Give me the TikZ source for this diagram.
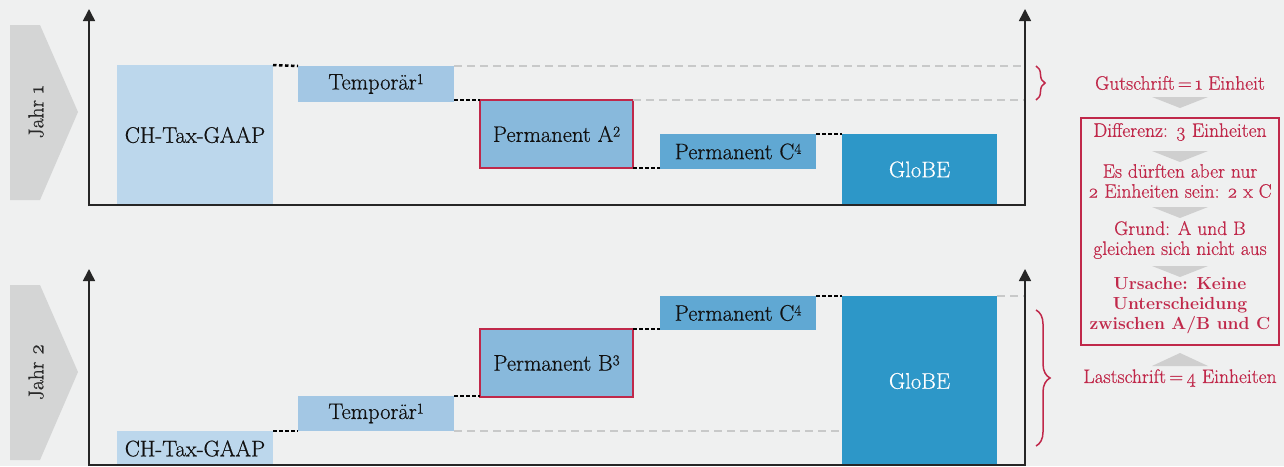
\documentclass[tikz,border=0pt]{standalone}
\usepackage{fontspec}
\newfontfamily\boldish{Latin Modern Roman}[FakeBold=0.6]
\newcommand\supnum[1]{\raisebox{0.55ex}{\fontsize{15}{15}\selectfont #1}}
\usetikzlibrary{arrows.meta,decorations.pathreplacing,calc}
\definecolor{bgc}{HTML}{EFF0F0}
\definecolor{jahrc}{HTML}{D4D5D5}
\definecolor{taxc}{HTML}{BCD7EC}
\definecolor{tempc}{HTML}{A3C7E4}
\definecolor{permc}{HTML}{88B9DC}
\definecolor{permcc}{HTML}{60A8D3}
\definecolor{globec}{HTML}{2D97C8}
\definecolor{redc}{HTML}{C0284A}
\definecolor{dashc}{HTML}{C8C9C9}
\definecolor{tric}{HTML}{CFCFCF}
\definecolor{txtc}{HTML}{111111}
\begin{document}
\begin{tikzpicture}[x=1pt,y=-1pt,
  barbox/.style 2 args={anchor=north west, inner sep=0pt, outer sep=0pt,
    minimum width=#1, minimum height=#2, text=txtc,
    font=\boldish\fontsize{22.5}{26}\selectfont},
  redframe/.style={draw=redc, line width=2.5pt},
  dotblk/.style={line width=2.5pt, dash pattern=on 3.5pt off 2.5pt, black},
  dashgr/.style={line width=2pt, dash pattern=on 8pt off 5pt, dashc},
  axisplain/.style={line width=1.6pt, black!85},
  axisarrow/.style={line width=1.6pt, black!85, -{Triangle[width=12pt,length=12pt]}},
  jahrlabel/.style={rotate=90, text=txtc!90, font=\boldish\fontsize{21.5}{24}\selectfont, inner sep=0pt},
  rtext/.style={text=redc, font=\boldish\fontsize{19.5}{20}\selectfont, align=center, inner sep=0pt},
  bracestyle/.style={redc, line width=1.5pt, decorate},
]
\useasboundingbox[fill=bgc] (0,0) rectangle (1284,466);

% ---------- Year 1 ----------
\fill[jahrc] (10,25) -- (40,25) -- (78,112) -- (40,200) -- (10,200) -- cycle;
\node[jahrlabel] (j1) at (36,112) {Jahr \oldstylenums{1}};

\coordinate (o1) at (89,205);
\coordinate (r1) at (1025,205);
\coordinate (yt1) at (89,9);
\coordinate (rt1) at (1025,9);

\node[barbox={156}{140}, fill=taxc] (tax1) at (117,65) {CH-Tax-GAAP};
\node[barbox={156}{36}, fill=tempc] (temp1) at (298,66) {Temporär\supnum{1}};
\node[barbox={153}{68}, fill=permc, redframe] (pa) at (480,100) {Permanent A\supnum{2}};
\node[barbox={156}{35}, fill=permcc] (pc1) at (660,134) {Permanent C\supnum{4}};
\node[barbox={155}{71}, fill=globec, text=white] (gl1) at (842,134) {GloBE};

\coordinate (d1a) at (1025,66);
\coordinate (d1b) at (1025,100);
\draw[dashgr] (temp1.north east) -- (d1a);
\draw[dashgr] (pa.north east) -- (d1b);

\draw[dotblk] (tax1.north east) -- (temp1.north west);
\draw[dotblk] (temp1.east |- pa.north) -- (pa.north west);
\draw[dotblk] (pa.south east) -- (pa.south east -| pc1.west);
\draw[dotblk] (pc1.north east) -- (gl1.north west);

\draw[axisplain] (o1) -- (r1);
\draw[axisarrow] ($(o1)+(0,1)$) -- (yt1);
\draw[axisarrow] ($(r1)+(0,1)$) -- (rt1);

\coordinate (b1a) at (1036,66);
\coordinate (b1b) at (1036,100);
\draw[bracestyle, decoration={brace, amplitude=9pt}] (b1a) -- (b1b);

% ---------- Year 2 ----------
\fill[jahrc] (10,285) -- (40,285) -- (78,372) -- (40,460) -- (10,460) -- cycle;
\node[jahrlabel] (j2) at (36,372) {Jahr \oldstylenums{2}};

\coordinate (o2) at (89,465);
\coordinate (r2) at (1025,465);
\coordinate (yt2) at (89,269);
\coordinate (rt2) at (1025,269);

\node[barbox={156}{35}, fill=taxc] (tax2) at (117,431) {CH-Tax-GAAP};
\node[barbox={156}{35}, fill=tempc] (temp2) at (298,396) {Temporär\supnum{1}};
\node[barbox={153}{68}, fill=permc, redframe] (pb) at (480,329) {Permanent B\supnum{3}};
\node[barbox={156}{34}, fill=permcc] (pc2) at (660,296) {Permanent C\supnum{4}};
\node[barbox={155}{170}, fill=globec, text=white] (gl2) at (842,296) {GloBE};

\coordinate (d2a) at (1025,296);
\draw[dashgr] (temp2.south east) -- (temp2.south east -| gl2.west);
\draw[dashgr] (gl2.north east) -- (d2a);

\draw[dotblk] (tax2.north east) -- (temp2.south west);
\draw[dotblk] (temp2.north east) -- (temp2.north east -| pb.west);
\draw[dotblk] (pb.north east) -- (pb.north east -| pc2.west);
\draw[dotblk] (pc2.north east) -- (gl2.north west);

\draw[axisplain] (o2) -- (r2);
\draw[axisarrow] ($(o2)+(0,1)$) -- (yt2);
\draw[axisarrow] ($(r2)+(0,1)$) -- (rt2);

\coordinate (b2a) at (1036,310);
\coordinate (b2b) at (1036,446);
\draw[bracestyle, decoration={brace, amplitude=14pt}] (b2a) -- (b2b);

% ---------- Right panel ----------
\node[rtext] (gut) at (1180,83) {Gutschrift\,=\,\oldstylenums{1} Einheit};
\fill[tric] (1152,97) -- (1208,97) -- (1180,108) -- cycle;
\draw[redc, line width=2.8pt] (1081,118) rectangle (1279,345);
\node[rtext] (diff) at (1180,132) {Differenz: \oldstylenums{3} Einheiten};
\fill[tric] (1152,151) -- (1208,151) -- (1180,162) -- cycle;
\node[rtext] (es) at (1180,181) {Es dürften aber nur\\\oldstylenums{2} Einheiten sein: \oldstylenums{2} x C};
\fill[tric] (1152,207) -- (1208,207) -- (1180,218) -- cycle;
\node[rtext] (grund) at (1180,240) {Grund: A und B\\gleichen sich nicht aus};
\fill[tric] (1152,266) -- (1208,266) -- (1180,277) -- cycle;
\node[rtext, font=\rmfamily\fontsize{17.5}{20}\selectfont\bfseries] (urs) at (1180,306) {Ursache: Keine\\Unterscheidung\\zwischen A/B und C};
\fill[tric] (1152,366) -- (1208,366) -- (1180,353) -- cycle;
\node[rtext] (last) at (1180,378) {Lastschrift\,=\,\oldstylenums{4} Einheiten};
\end{tikzpicture}
\end{document}
